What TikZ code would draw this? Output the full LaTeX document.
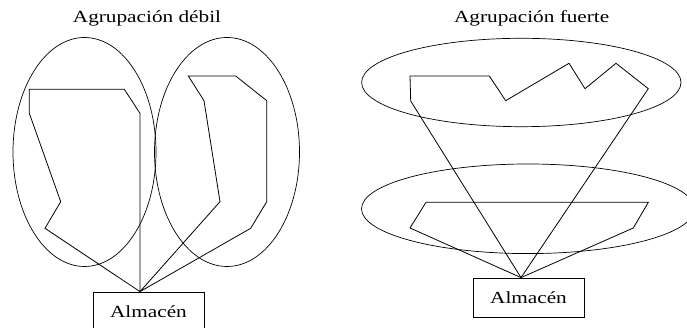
\documentclass[tikz,border=0pt]{standalone}
\usepackage{fontspec}
\setmainfont{Liberation Serif}
\usepackage{graphicx}
\usetikzlibrary{positioning,calc}
\newcommand{\widetext}[1]{\scalebox{1.25}[1]{#1}}
\tikzset{
  zone/.style={draw,line width=0.7pt},
  route/.style={draw,line width=0.8pt,line join=miter},
  depot/.style={draw,line width=0.8pt,minimum width=111pt,minimum height=39pt,
    inner sep=0pt,font=\fontsize{17}{20}\selectfont}
}
\begin{document}
\begin{tikzpicture}[x=1pt,y=1pt,
  heading/.style={anchor=base,inner sep=0pt,font=\fontsize{17}{20}\selectfont}
]
  \useasboundingbox (0,0) rectangle (687,328);
  \clip (0,0) rectangle (687,328);
  % titles
  \node[heading] (titleL) at (147,305) {\widetext{Agrupación débil}};
  \node[heading] (titleR) at (531.7,305.5) {\widetext{Agrupación fuerte}};
  % depots
  \node[depot] (boxL) at (148.5,16.5) {\widetext{Almacén}};
  \node[depot] (boxR) at (528.5,30.5) {\widetext{Almacén}};
  \coordinate (apexL) at ([xshift=-8.5pt]boxL.north);
  \coordinate (apexR) at ([xshift=-7.5pt]boxR.north);
  % weak grouping
  \draw[zone] (84.5,176) ellipse [x radius=71.5,y radius=114.5];
  \draw[zone] (227,176) ellipse [x radius=72.5,y radius=114.5];
  \draw[route] (apexL) -- (140,214.7) -- (124.3,238.7) -- (29.3,238.7)
    -- (29.3,214.7) -- (60.7,126.3) -- (45,99.7) -- cycle;
  \draw[route] (apexL) -- (250.7,99.7) -- (266.7,126.3) -- (266.7,227.3)
    -- (235.7,252) -- (188.3,252) -- (204,227.3) -- (220,126.3) -- cycle;
  % strong grouping
  \draw[zone] (521.3,245.5) ellipse [x radius=159.7,y radius=44.2];
  \draw[zone] (528,119.2) ellipse [x radius=166.5,y radius=44.8];
  \draw[route] (apexR) -- (410.7,227) -- (410,252) -- (489.3,252)
    -- (505.7,227.3) -- (569,264.7) -- (585,239.3) -- (616,264.7)
    -- (648.3,239.3) -- cycle;
  \draw[route] (apexR) -- (410,100) -- (426,125.7) -- (648.3,125.7)
    -- (633.3,100) -- cycle;
\end{tikzpicture}
\end{document}
